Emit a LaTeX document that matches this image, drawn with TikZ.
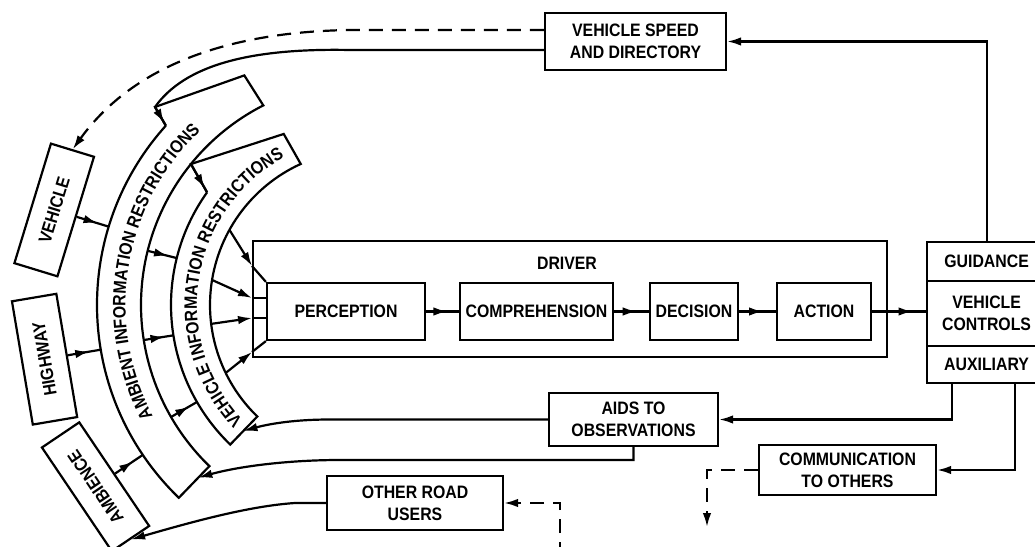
\documentclass[tikz,border=0pt]{standalone}
\usepackage{fontspec}
\setmainfont{Liberation Sans}[FakeStretch=0.88]
\usetikzlibrary{arrows.meta,calc,decorations.markings,decorations.text}
\newcommand\lbl{\bfseries\fontsize{18}{22}\selectfont}
\begin{document}
\begin{tikzpicture}[x=1pt,y=1pt, line width=2.2pt,
  box/.style={draw, line width=2.2pt, inner sep=0pt, font=\lbl, align=center},
  arr/.style={-{Latex[length=14pt,width=8.5pt]}},
  midarr/.style={postaction={decorate, decoration={markings, mark=at position #1 with {\arrow{Latex[length=14pt,width=8.5pt]}}}}},
  midarr/.default=0.6,
  dsh/.style={dash pattern=on 14pt off 9pt}]
\useasboundingbox (0,0) rectangle (1035,546);
\clip (0,0) rectangle (1035,546);
\coordinate (C) at (365,241);

% ---------- driver block ----------
\node[box, minimum width=634, minimum height=116, anchor=south west] (drv) at (252,188) {};
\node[font=\lbl] (drvl) at (567,283) {DRIVER};
\node[box, minimum width=158, minimum height=57] (perc) at (346,234.5) {PERCEPTION};
\node[box, minimum width=153, minimum height=57] (comp) at (536.5,234.5) {COMPREHENSION};
\node[box, minimum width=88, minimum height=57] (dec) at (694,234.5) {DECISION};
\node[box, minimum width=94, minimum height=57] (act) at (824,234.5) {ACTION};
\draw[midarr=0.65] (perc) -- (comp);
\draw[midarr=0.65] (comp) -- (dec);
\draw[midarr=0.65] (dec) -- (act);

% ---------- control box ----------
\node[box, anchor=north west, minimum width=119, minimum height=39] (guid) at (926,305) {GUIDANCE};
\node[box, anchor=north west, minimum width=119, minimum height=65] (vc) at (926,266) {VEHICLE\\CONTROLS};
\node[box, anchor=north west, minimum width=119, minimum height=37] (aux) at (926,201) {AUXILIARY};
\draw[midarr=0.75] (act.east) -- (act.east -| vc.west);

% ---------- other boxes ----------
\node[box, minimum width=181, minimum height=57] (vsd) at (635.5,504.5) {VEHICLE SPEED\\AND DIRECTORY};
\node[box, minimum width=169, minimum height=53] (aids) at (633.5,126.5) {AIDS TO\\OBSERVATIONS};
\node[box, minimum width=177, minimum height=50] (comm) at (847.5,76) {COMMUNICATION\\TO OTHERS};
\node[box, minimum width=176, minimum height=54] (oru) at (415,43) {OTHER ROAD\\USERS};

% ---------- outer curved boxes ----------
\node[box, rotate=73, minimum width=125, minimum height=45] (veh) at ($(C)+(163:325)$) {VEHICLE};
\node[box, rotate=99.6, minimum width=125, minimum height=45] (hwy) at ($(C)+(189.6:325)$) {HIGHWAY};
\node[box, rotate=124, minimum width=125, minimum height=45] (amb) at ($(C)+(214:325)$) {AMBIENCE};

% ---------- bands ----------
\coordinate (A1) at (155,439);
\coordinate (A2) at ($(C)+(138:268)$);
\coordinate (A4) at ($(C)+(117:224)$);
\coordinate (A3) at ($(A4)+(-19,30)$);
\coordinate (V1) at ($(C)+(141:224)$);
\coordinate (V2) at ($(C)+(144.5:194)$);
\coordinate (V4) at ($(C)+(114.5:155)$);
\coordinate (V3) at ($(V4)+(-17,30)$);

\draw (A2) -- (A1) -- (A3) -- (A4) arc[start angle=117, end angle=226, radius=224]
  -- ($(C)+(226:268)$) arc[start angle=226, end angle=138, radius=268];
\draw (V2) -- (V1) -- (V3) -- (V4) arc[start angle=114.5, end angle=226, radius=155]
  -- ($(C)+(226:194)$) arc[start angle=226, end angle=144.5, radius=194];
\draw[midarr=0.85] (A1) -- (A2);
\draw[midarr=0.85] (V1) -- (V2);

\path[decorate, decoration={text along path, text align=center,
  text={|\lbl|AMBIENT INFORMATION RESTRICTIONS}}]
  ($(C)+(212:239.5)$) arc[start angle=212, end angle=129, radius=239.5];
\path[decorate, decoration={text along path, text align=center,
  text={|\lbl|VEHICLE INFORMATION RESTRICTIONS}}]
  ($(C)+(228:168)$) arc[start angle=228, end angle=114, radius=168];

% outer boxes -> ambient band
\draw[midarr=0.65] (veh.south) -- ($(C)+(163:268)$);
\draw[midarr=0.65] (hwy.south) -- ($(C)+(189.6:268)$);
\draw[midarr=0.65] (amb.south) -- ($(C)+(214:268)$);
% ambient -> vehicle band
\draw[midarr=0.7] ($(C)+(166:224)$) -- ($(C)+(166:194)$);
\draw[midarr=0.7] ($(C)+(189:224)$) -- ($(C)+(189:194)$);
\draw[midarr=0.7] ($(C)+(210:224)$) -- ($(C)+(210:194)$);
% vehicle band -> driver
\coordinate (D1) at (252,280);
\coordinate (D2) at (252,248);
\coordinate (D3) at (252,228);
\coordinate (D4) at (252,194);
\draw[arr] ($(C)+(151:155)$) -- (D1);
\draw[arr] ($(C)+(170.7:155)$) -- (D2);
\draw[arr] ($(C)+(187:155)$) -- (D3);
\draw[arr] ($(C)+(206:155)$) -- (D4);
\draw (D1) -- (perc.north west);
\draw (D2) -- (D2 -| perc.west);
\draw (D3) -- (D3 -| perc.west);
\draw (D4) -- (perc.south west);

% ---------- feedback connectors ----------
\draw[arr] (guid.north) |- (vsd.east);
\draw ([yshift=-8.5]vsd.west) -- (350,496) .. controls (250,498) and (185,481) .. (A1);
\draw[arr, dsh] ([yshift=11.5]vsd.west) -- (350,516) .. controls (220,514) and (130,476) .. (veh.east);
\draw[arr] ($(aux.south west)+(26,0)$) |- (aids.east);
\draw[arr] ($(aux.south west)+(89,0)$) |- (comm.east);
\draw[arr, dsh] (comm.west) -| (707,19);
\draw[arr, dsh] (560,-10) |- (oru.east);
\draw[arr] (oru.west) -- (295,43) .. controls (250,40) and (195,25) .. (amb.west);
\draw[arr] (aids.west) -- (330,126.5) .. controls (290,126.5) and (265,121) .. ($(C)+(226:175)$);
\draw[arr] (aids.south) |- (340,86) .. controls (290,86) and (240,80) .. ($(C)+(226:240)$);
\end{tikzpicture}
\end{document}
